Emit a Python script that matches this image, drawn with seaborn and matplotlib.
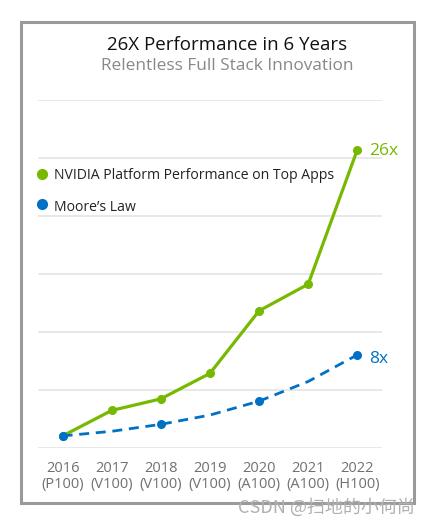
import numpy as np
import pandas as pd
import seaborn as sns
import matplotlib.pyplot as plt
from matplotlib.patches import Rectangle

years = ["2016", "2017", "2018", "2019", "2020", "2021", "2022"]
gpus = ["(P100)", "(V100)", "(V100)", "(V100)", "(A100)", "(A100)", "(H100)"]
nvidia = [1.0, 3.2, 4.2, 6.4, 11.8, 14.1, 25.7]
moore = [1.0, 1.4, 2.0, 2.8, 4.0, 5.7, 8.0]
moore_marked = [True, False, True, False, True, False, True]

green = "#76b900"
blue = "#0071c5"

sns.set_style("white")
plt.rcParams['font.family'] = ['Open Sans', 'DejaVu Sans']

df = pd.DataFrame({"x": range(len(years)), "nvidia": nvidia, "moore": moore})

fig = plt.figure(figsize=(4.32, 5.25), dpi=100)
ax = fig.add_axes([0.088, 0.1476, 0.796, 0.662])

sns.lineplot(data=df, x="x", y="nvidia", color=green, lw=2.3,
             marker="o", markersize=6.5, markeredgewidth=0, ax=ax, clip_on=False)
mk = [i for i, m in enumerate(moore_marked) if m]
sns.lineplot(data=df, x="x", y="moore", color=blue, lw=2.0, ls=(0, (3.6, 2.4)),
             marker="o", markersize=6.5, markeredgewidth=0, markevery=mk,
             ax=ax, clip_on=False)

ax.set_xlim(-0.5, 6.5)
ax.set_ylim(0, 30)
ax.set_yticks(np.arange(0, 31, 5))
ax.set_yticklabels([])
ax.set_xticks(range(len(years)))
ax.set_xticklabels([y + "\n" + g for y, g in zip(years, gpus)],
                   fontsize=10.5, color="#707070", linespacing=1.15)
ax.tick_params(axis="both", length=0, pad=9.5)
ax.yaxis.grid(True, color="#e2e2e2", lw=1.1)
ax.set_axisbelow(True)
sns.despine(ax=ax, left=True, bottom=True)
ax.set_xlabel("")
ax.set_ylabel("")

ax.text(6.25, nvidia[-1] - 0.1, "26x", color=green, fontsize=12.5, va="center")
ax.text(6.25, moore[-1] - 0.4, "8x", color=blue, fontsize=12.5, va="center")

# legend
ax.plot([-0.42], [23.6], "o", color=green, markersize=7, clip_on=False)
ax.text(-0.18, 23.5, "NVIDIA Platform Performance on Top Apps", fontsize=10.1,
        color="#222222", va="center")
ax.plot([-0.42], [21.0], "o", color=blue, markersize=7, clip_on=False)
ax.text(-0.18, 20.7, "Moore\u2019s Law", fontsize=10.1, color="#222222", va="center")

fig.text(0.525, 1 - 45 / 525, "26X Performance in 6 Years", ha="center",
         va="center", fontsize=13.5, color="#111111")
fig.text(0.525, 1 - 66 / 525, "Relentless Full Stack Innovation", ha="center",
         va="center", fontsize=12.4, color="#888888")

fig.patches.append(Rectangle((20.5 / 432, 1 - 503 / 525), 393.5 / 432, 481 / 525,
                             transform=fig.transFigure, fill=False,
                             edgecolor="#9a9a9a", lw=2.2))

fig.text(415 / 432, 1 - 507 / 525, "CSDN @扫地的小何尚", ha="right", va="center",
         fontsize=13, color="#b0b0b0",
         family=["Noto Sans CJK SC", "DejaVu Sans"])

fig.savefig("out.png", dpi=100)
